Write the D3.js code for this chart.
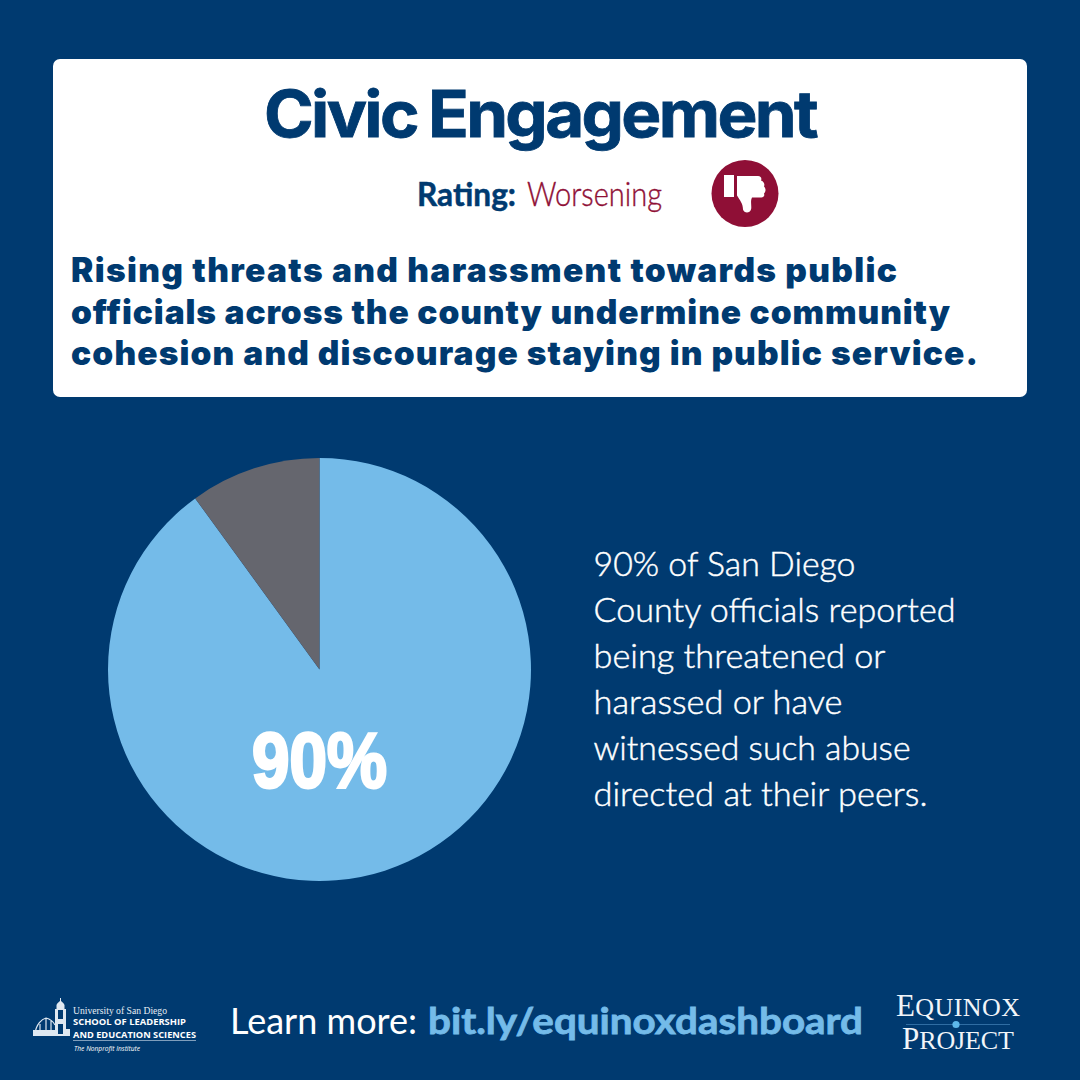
<!DOCTYPE html>
<html><head><meta charset="utf-8">
<script src="https://cdn.jsdelivr.net/npm/d3@7"></script>
<style>html,body{margin:0;padding:0;background:#003a70}svg{display:block}</style>
</head><body><svg id="c" width="1080" height="1080"></svg>
<script>
const categories = ["Threatened, harassed or witnessed abuse", "Other"];
const values = [90, 10];
const sliceColors = ["#74bbe9", "#65666e"];
const pieLabel = "90%";
const titleText = "Civic Engagement";
const headline = ["Rising threats and harassment towards public","officials across the county undermine community","cohesion and discourage staying in public service."];
const sideText = ["90% of San Diego","County officials reported","being threatened or","harassed or have","witnessed such abuse","directed at their peers."];

const navy = "#003a70", maroon = "#8f0f36", white = "#ffffff";
const svg = d3.select("#c");
svg.append("rect").attr("width",1080).attr("height",1080).attr("fill",navy);
svg.append("rect").attr("x",53).attr("y",59).attr("width",974).attr("height",338).attr("rx",7).attr("fill",white);

function T(x,y,t,o){
  const s = svg.append("text").attr("x",x).attr("y",y).text(t)
   .attr("font-family",o.f||"Lato").attr("font-size",o.s).attr("font-weight",o.w||400)
   .attr("fill",o.c||white).attr("text-anchor",o.a||"start");
  if(o.ls!==undefined) s.attr("letter-spacing",o.ls);
  if(o.tl) s.attr("textLength",o.tl).attr("lengthAdjust",o.la||"spacingAndGlyphs");
  if(o.st) s.attr("font-style",o.st);
  if(o.sw) s.attr("stroke",o.c||white).attr("stroke-width",o.sw);
  return s;
}
T(540,137,titleText,{s:64,w:700,c:navy,a:"middle",f:"Inter",tl:552,ls:-2.5,sw:0.8}).attr("word-spacing",-2);
T(417,206,"Rating:",{s:32,w:700,c:navy,f:"Lato",tl:99,sw:0.5});
T(527,206,"Worsening",{s:33,w:300,c:maroon,f:"Lato",tl:135,sw:0.4});

// thumbs-down icon
const icon = svg.append("g").attr("transform","translate(745,193.5)");
icon.append("circle").attr("r",33.5).attr("fill",maroon);
icon.append("rect").attr("x",-21).attr("y",-18.5).attr("width",10).attr("height",22).attr("fill",white);
icon.append("path").attr("fill",white).attr("d","M-8,-17.5 L13,-17.5 C16,-17.5 17,-15 16,-13 C19,-12 20,-9 19,-7 C21,-5 21,-2 19,0 C20,3 18,4 15,4 L7,4 C5,8 7,13 6,16 C5,20 -1,20 -2,16 C-2,10 -5,7 -8,2 Z");

headline.forEach((l,i)=>T(71,282+i*41.5,l,{s:33.5,w:900,c:navy,f:"Inter",tl:[826,879,907][i],la:"spacing"}));

// pie
const cx=319.5, cy=669.5, R=211.5;
const pie = d3.pie().value(d=>d).sort(null);
const arc = d3.arc().innerRadius(0).outerRadius(R);
const g = svg.append("g").attr("transform",`translate(${cx},${cy})`);
g.selectAll("path").data(pie(values)).enter().append("path")
  .attr("d",arc)
  .attr("fill",(d,i)=>sliceColors[i]);
T(319.5,787,pieLabel,{s:78,w:700,a:"middle",f:"Liberation Sans",tl:135,sw:3});

sideText.forEach((l,i)=>T(593.5,576+i*46,l,{s:33,w:300,f:"Lato",tl:[262,362,292,249,317,334][i],sw:0.45}));

// footer
T(230,1034,"Learn more:",{s:37,f:"Lato",tl:187});
T(428,1034,"bit.ly/equinoxdashboard",{s:37,w:700,c:"#74bbe9",f:"Lato",tl:435,sw:0.8});

// USD logo: church silhouette
const lc = "#dfe8f1";
const l = svg.append("g").attr("fill",lc).attr("stroke","none");
l.append("path").attr("fill-rule","evenodd").attr("d","M55,1036 L55,1009 L56.5,1009 L56.5,1005 C57,1003 59,1002 60,1001 L60,998 L61,998 L61,1001 C62,1002 64,1003 64.5,1005 L64.5,1009 L66,1009 L66,1036 Z M58,1010 L58,1019 L63,1019 L63,1010 Z M58,1024 L58,1034 L63,1034 L63,1024 Z");
l.append("path").attr("fill","none").attr("stroke",lc).attr("stroke-width",1.2).attr("d","M35,1034 C36,1024 42,1019 46,1018 C50,1019 53,1021 55,1025 M40,1034 L40,1024 M46,1034 L46,1018 M51,1034 L51,1021");
l.append("rect").attr("x",33).attr("y",1030).attr("width",22).attr("height",6);
l.append("rect").attr("x",66).attr("y",1029).attr("width",4).attr("height",7);
T(73,1013.5,"University of San Diego",{s:10,f:"Liberation Serif",tl:94,c:"#e6edf4"});
T(73,1025,"SCHOOL OF LEADERSHIP",{s:9,w:700,f:"Open Sans",tl:113});
T(73,1037.5,"AND EDUCATION SCIENCES",{s:9,w:700,f:"Open Sans",tl:123});
svg.append("line").attr("x1",73).attr("x2",196).attr("y1",1040.5).attr("y2",1040.5).attr("stroke","#9fb7cf").attr("stroke-width",0.8);
T(74,1050.5,"The Nonprofit Institute",{s:7.5,f:"Open Sans",st:"italic",tl:66});

// Equinox logo
function smallCaps(x,y,first,rest,len){
  const t = svg.append("text").attr("x",x).attr("y",y).attr("font-family","Liberation Serif").attr("fill","#f1f5f9")
    .attr("textLength",len).attr("lengthAdjust","spacing");
  t.append("tspan").attr("font-size",31).text(first);
  t.append("tspan").attr("font-size",26).text(rest);
}
smallCaps(896,1015.5,"E","QUINOX",124);
smallCaps(902,1049,"P","ROJECT",112);
svg.append("line").attr("x1",906).attr("x2",1010).attr("y1",1024.5).attr("y2",1024.5).attr("stroke","#2f6da3").attr("stroke-width",1);
svg.append("circle").attr("cx",956).attr("cy",1024.5).attr("r",3.6).attr("fill","#5db8ea");
</script></body></html>
